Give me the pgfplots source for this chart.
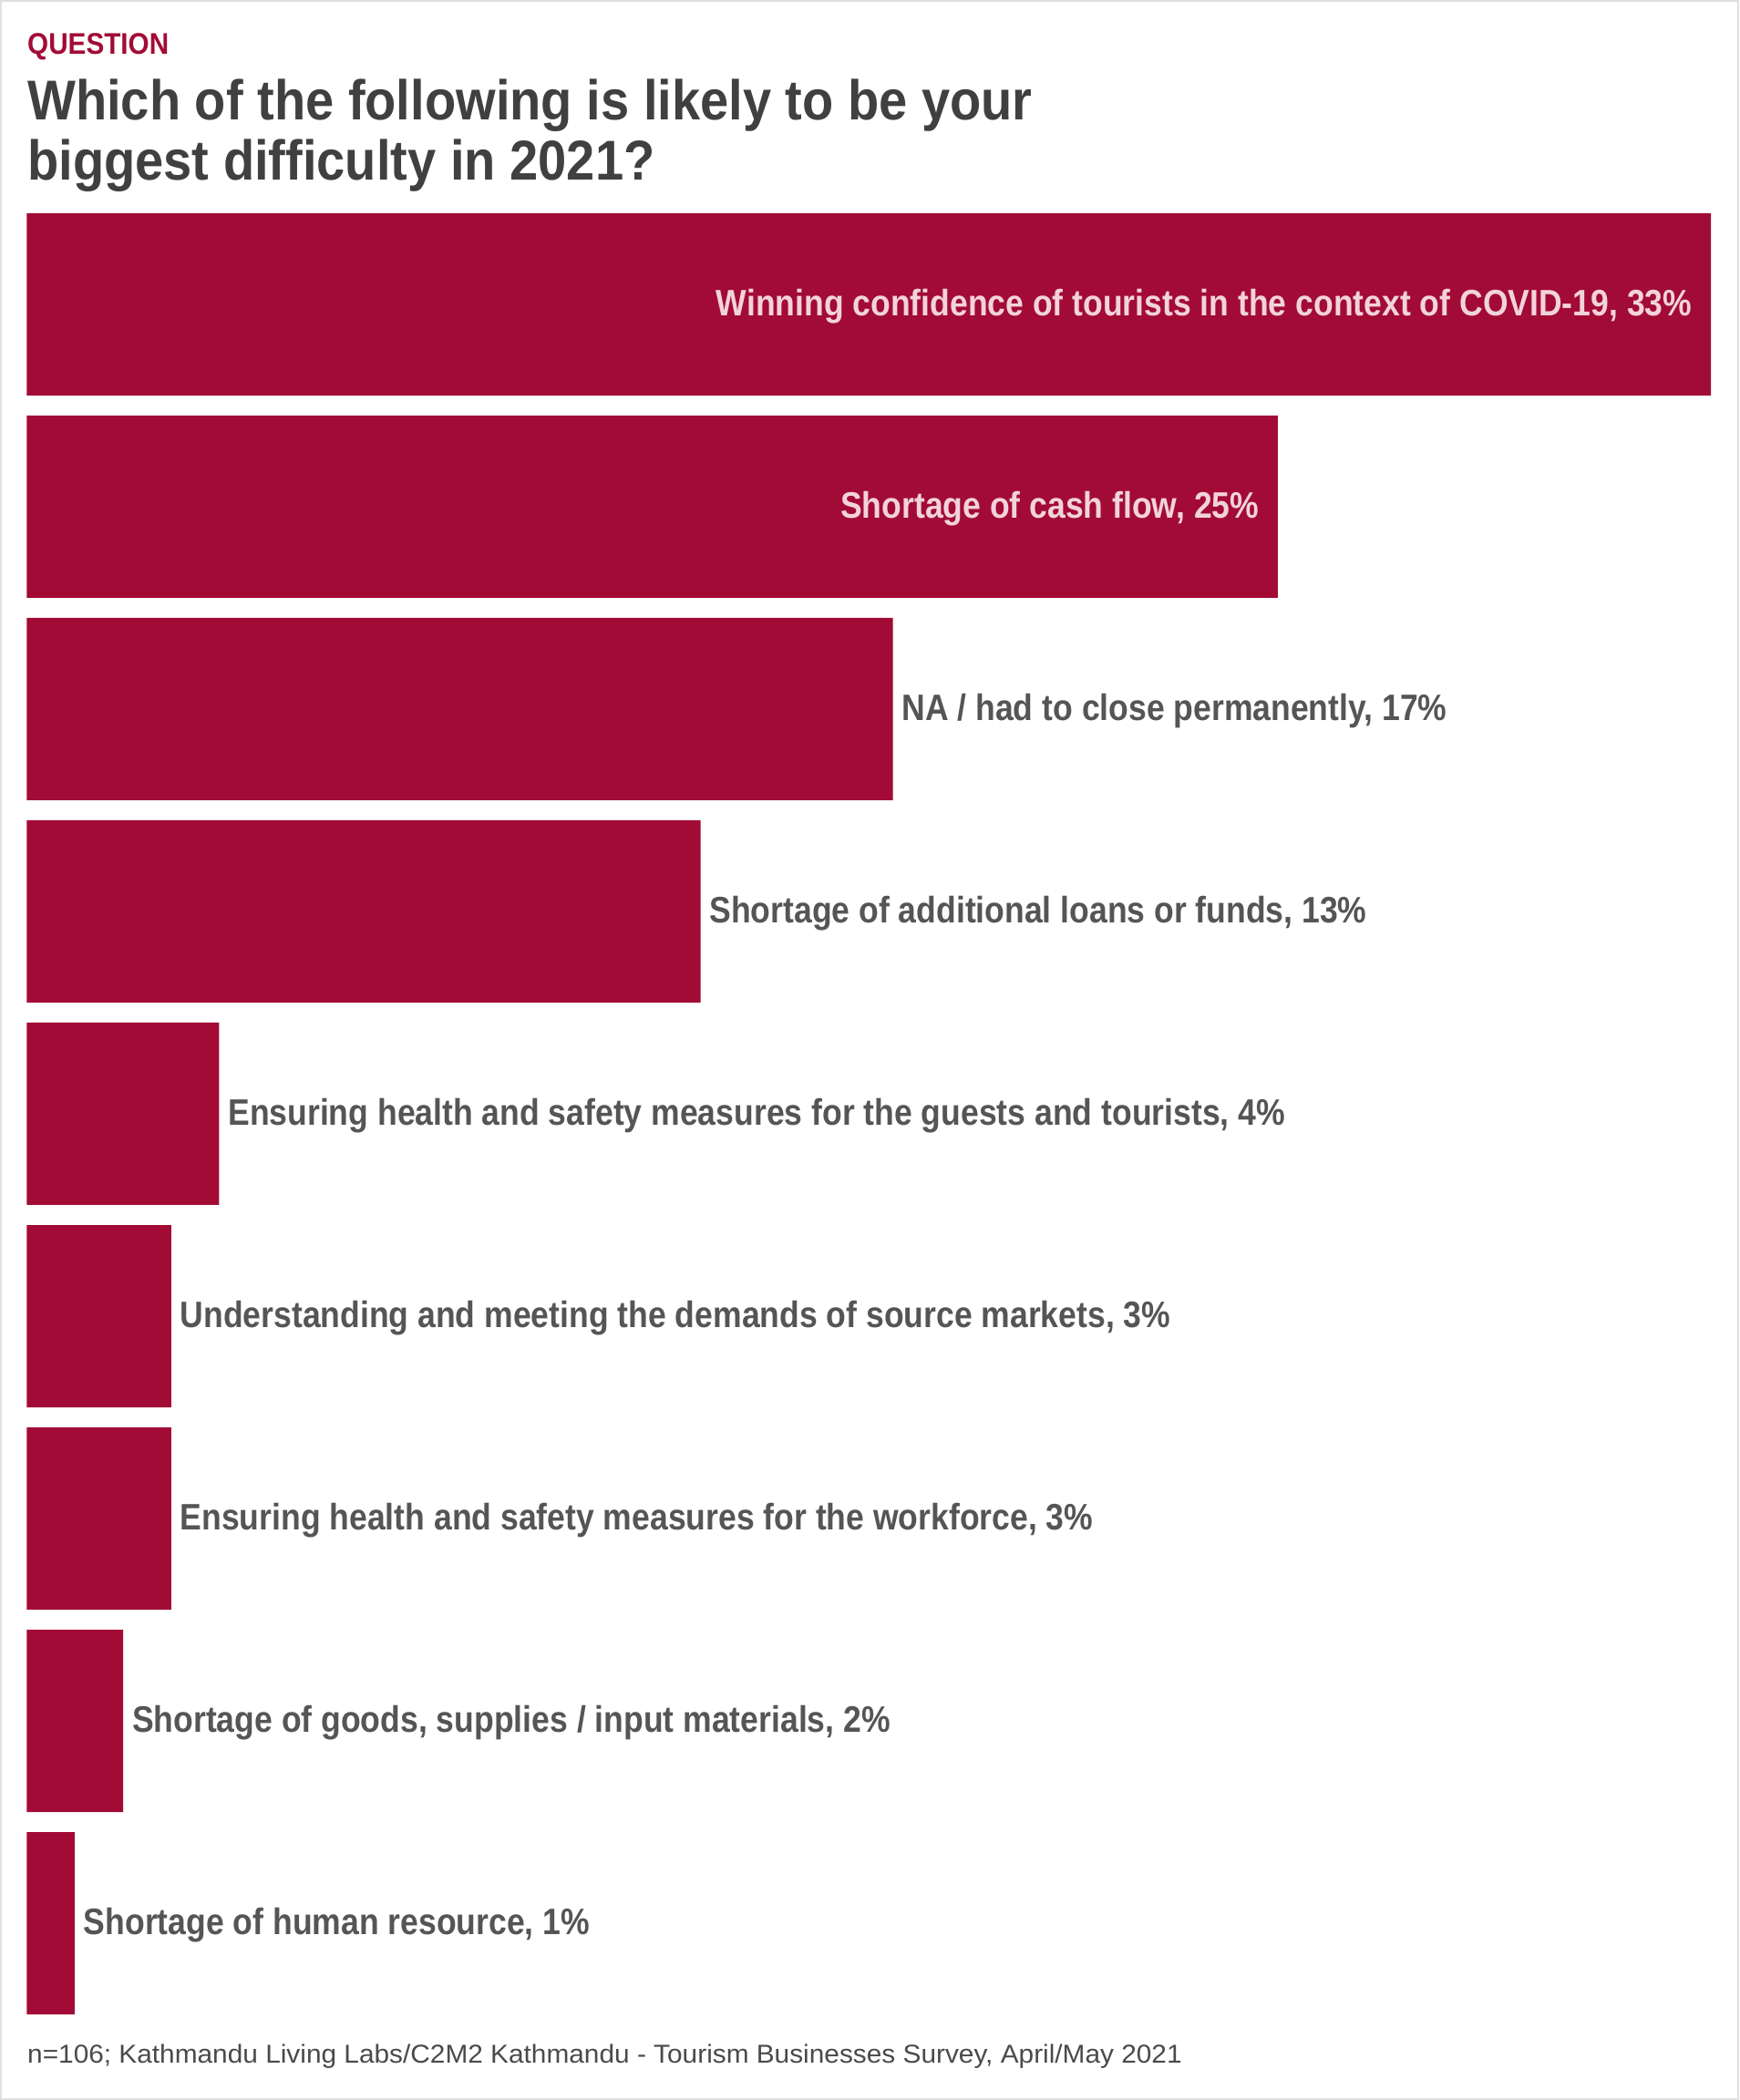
\documentclass[border=0pt]{standalone}
\usepackage{fontspec}
\setmainfont{Liberation Sans}
\newfontfamily\labfont[FakeStretch=0.88]{Liberation Sans}
\newfontfamily\titfont[FakeStretch=0.91]{Liberation Sans}
\newfontfamily\qfont[FakeStretch=0.905]{Liberation Sans}
\newfontfamily\footfont[FakeStretch=1.05]{Liberation Sans}
\usepackage{pgfplots}
\pgfplotsset{compat=1.18}
\definecolor{barred}{HTML}{A20B35}
\definecolor{pinklab}{HTML}{F2D3DC}
\definecolor{graylab}{HTML}{555555}
\definecolor{titgray}{HTML}{404040}
\definecolor{footgray}{HTML}{4A4A4A}
\begin{document}
\begin{tikzpicture}
\path[use as bounding box, fill=white] (0,0) rectangle (477pt,576pt);
\draw[color=black!12, line width=0.5pt] (0.25pt,0.25pt) rectangle (476.75pt,575.75pt);
\begin{axis}[
  at={(7.35pt,23.5pt)}, anchor=south west,
  scale only axis, width=461.9pt, height=494pt,
  xmin=0, xmax=33.02, ymin=-0.45, ymax=8.45,
  axis lines=none, xbar, bar width=50pt, bar shift=0pt,
  clip=false,
  nodes near coords, point meta=explicit symbolic,
]
\addplot[fill=barred, draw=none,
  every node near coord/.append style={anchor=east, xshift=-5pt, yshift=-0.6pt, inner sep=0pt, text=pinklab, font=\labfont\bfseries\fontsize{10.1}{12}\selectfont}]
  coordinates {
  (33.02,8) [{Winning confidence of tourists in the context of COVID-19, 33\%}]
  (24.53,7) [{Shortage of cash flow, 25\%}]
  };
\addplot[fill=barred, draw=none,
  every node near coord/.append style={anchor=west, xshift=2.3pt, yshift=-0.6pt, inner sep=0pt, text=graylab, font=\labfont\bfseries\fontsize{10.1}{12}\selectfont}]
  coordinates {
  (16.98,6) [{NA / had to close permanently, 17\%}]
  (13.21,5) [{Shortage of additional loans or funds, 13\%}]
  (3.77,4) [{Ensuring health and safety measures for the guests and tourists, 4\%}]
  (2.83,3) [{Understanding and meeting the demands of source markets, 3\%}]
  (2.83,2) [{Ensuring health and safety measures for the workforce, 3\%}]
  (1.89,1) [{Shortage of goods, supplies / input materials, 2\%}]
  (0.94,0) [{Shortage of human resource, 1\%}]
  };
\end{axis}
\node[anchor=base west, inner sep=0pt, text=barred, font=\qfont\bfseries\fontsize{8.2}{10}\selectfont] at (7.35pt,561pt) {QUESTION};
\node[anchor=base west, inner sep=0pt, text=titgray, font=\titfont\bfseries\fontsize{15.4}{18}\selectfont] at (7.35pt,543pt) {Which of the following is likely to be your};
\node[anchor=base west, inner sep=0pt, text=titgray, font=\titfont\bfseries\fontsize{15.4}{18}\selectfont] at (7.35pt,526.5pt) {biggest difficulty in 2021?};
\node[anchor=base west, inner sep=0pt, text=footgray, font=\footfont\fontsize{7.1}{9}\selectfont] at (7.35pt,10pt) {n=106; Kathmandu Living Labs/C2M2 Kathmandu - Tourism Businesses Survey, April/May 2021};
\end{tikzpicture}
\end{document}
